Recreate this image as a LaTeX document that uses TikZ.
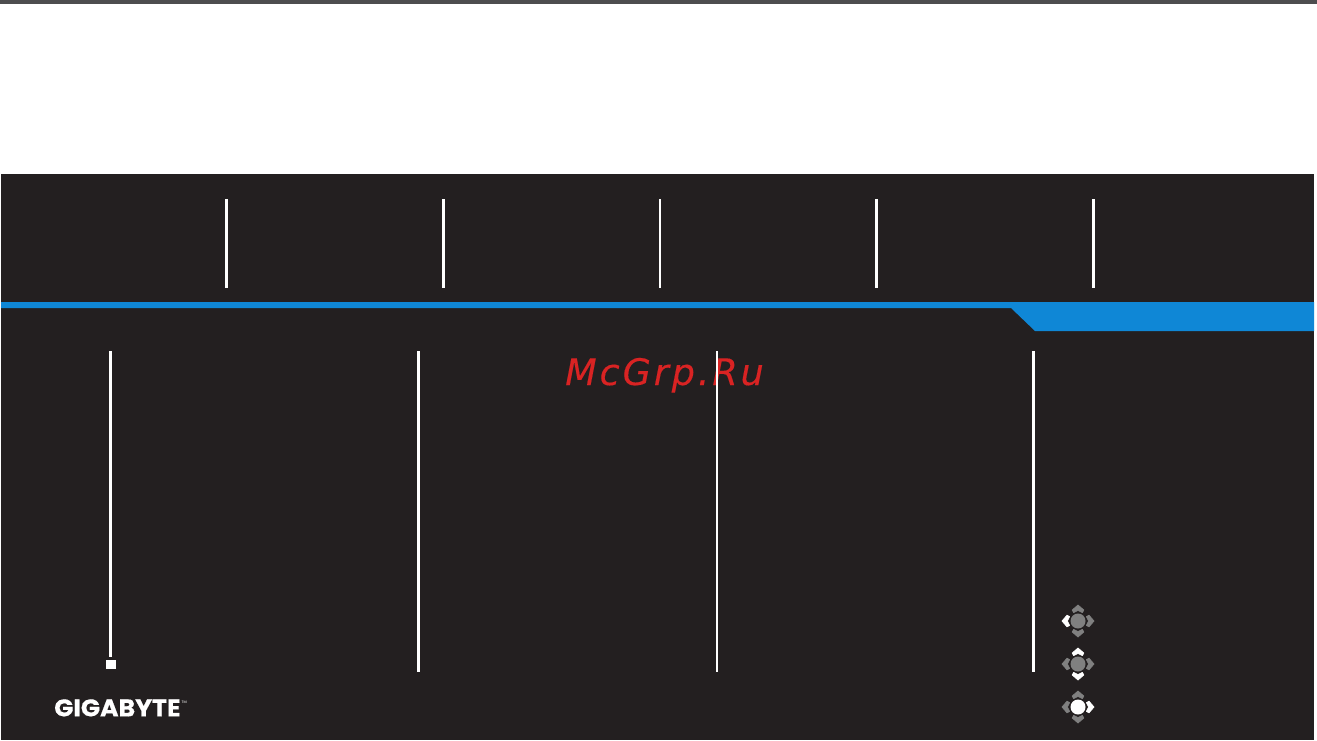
\documentclass[tikz,border=0pt]{standalone}
\usepackage{fontspec}
\newfontfamily\wmfont{DejaVu Sans}
\newfontfamily\logofont{Poppins}
\definecolor{panel}{HTML}{231F20}
\definecolor{topbar}{HTML}{4D4D4F}
\definecolor{band}{HTML}{0F87D6}
\definecolor{wm}{HTML}{D92323}
\definecolor{keygrey}{HTML}{808080}
\tikzset{
  rule/.style={draw=white,line width=2.6pt},
  chev/.style={fill=#1,draw=#1,line width=0.7pt,line join=round},
}
% centre x, centre y, colours: left, right, up, down, centre
\newcommand{\dpadicon}[7]{%
  \begin{scope}[shift={(#1,#2)}]
    \path[chev=#3] (-16,0)--(-11,-5.8)--(-8.4,-4.4)--(-10.6,0)--(-8.4,4.4)--(-11,5.8)--cycle;
    \path[chev=#4] (16,0)--(11,-5.8)--(8.4,-4.4)--(10.6,0)--(8.4,4.4)--(11,5.8)--cycle;
    \path[chev=#5] (0,-16)--(-5.8,-11)--(-4.4,-8.4)--(0,-10.6)--(4.4,-8.4)--(5.8,-11)--cycle;
    \path[chev=#6] (0,16)--(-5.8,11)--(-4.4,8.4)--(0,10.6)--(4.4,8.4)--(5.8,11)--cycle;
    \fill[#7] (0,0) circle (7.5);
  \end{scope}}
\begin{document}
\begin{tikzpicture}[x=1pt,y=-1pt]
\useasboundingbox (0,0) rectangle (1317,740);
\fill[white] (0,0) rectangle (1317,740);
\fill[topbar] (0,0) rectangle (1317,4);
\fill[panel] (1,174) rectangle (1314,740);
% blue band and tab
\fill[band] (1,302) -- (1314,302) -- (1314,331) -- (1035,331) -- (1011,308) -- (1,308) -- cycle;
% watermark
\node[text=wm,font=\wmfont\itshape\fontsize{36.5}{36}\selectfont,anchor=base,inner sep=0pt] (mark) at (664.5,385) {\addfontfeature{LetterSpace=8,FakeBold=0.25}McGrp.Ru};
% top dividers
\foreach \x in {226.2,443.2,659.8,876.2,1093.2}{\draw[rule] (\x,199) -- (\x,288);}
% column dividers
\draw[rule] (110.2,351) -- (110.2,657);
\draw[rule] (418.2,351) -- (418.2,672);
\draw[rule] (716.8,351) -- (716.8,672);
\draw[rule] (1033.2,351) -- (1033.2,672);
\fill[white] (106,660) rectangle (116,669);
% logo
\node[text=white,font=\logofont\bfseries\fontsize{24}{24}\selectfont,anchor=base west,inner sep=0pt] (logo) at (54,716.3) {\scalebox{1.05}[1]{\addfontfeature{FakeBold=0.5}GIGABYTE}};
\node[text=white,font=\logofont\fontsize{3.6}{4}\selectfont,anchor=base west,inner sep=0pt] (tm) at (181.5,703.5) {TM};
% keys
\dpadicon{1078}{621}{white}{keygrey}{keygrey}{keygrey}{keygrey}
\dpadicon{1078}{664}{keygrey}{keygrey}{white}{white}{keygrey}
\dpadicon{1078}{707}{keygrey}{white}{keygrey}{keygrey}{white}
\end{tikzpicture}
\end{document}
